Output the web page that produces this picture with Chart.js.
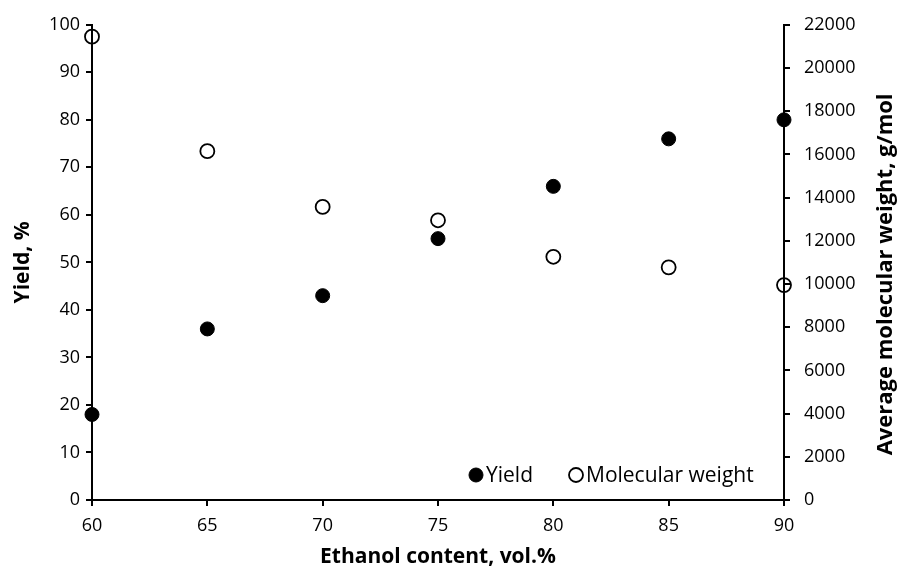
<!DOCTYPE html>
<html lang="en">
<head>
  <meta charset="UTF-8">
  <title>Yield and molecular weight vs ethanol content</title>
  <script src="https://cdn.jsdelivr.net/npm/chart.js"></script>
  <style>
    body {
      margin: 0;
      background-color: #fff;
    }
    .chart-box {
      width: 897px;
      height: 572px;
    }
  </style>
</head>
<body>
  <div class="chart-box">
    <canvas id="yieldChart"></canvas>
  </div>
  <script>
    // x values (ethanol content, vol.%)
    var ethanol = [60, 65, 70, 75, 80, 85, 90];
    // Yield, %
    var yieldValues = [18, 36, 43, 55, 66, 76, 80];
    // Average molecular weight, g/mol
    var mwValues = [21450, 16150, 13570, 12950, 11260, 10770, 9950];

    var rightTitle = 'Average molecular weight, g/mol';

    function toPoints(xs, ys) {
      return xs.map(function (x, i) { return { x: x, y: ys[i] }; });
    }

    var fontFamily = '"Open Sans", Lato, sans-serif';

    // legend inside the plot area (bottom right) + right axis title reading upwards
    var extras = {
      id: 'extras',
      afterDraw: function (chart) {
        var ctx = chart.ctx;
        var area = chart.chartArea;
        var y = area.bottom - 25;
        var items = [
          { x: area.left + 384, label: 'Yield', ds: chart.data.datasets[0] },
          { x: area.left + 484, label: 'Molecular weight', ds: chart.data.datasets[1] }
        ];
        ctx.save();
        ctx.font = '21px ' + fontFamily;
        ctx.textBaseline = 'middle';
        items.forEach(function (it) {
          ctx.beginPath();
          ctx.arc(it.x, y, 7, 0, Math.PI * 2);
          if (it.ds.backgroundColor !== 'rgba(0,0,0,0)') {
            ctx.fillStyle = it.ds.backgroundColor;
            ctx.fill();
          }
          ctx.lineWidth = it.ds.borderWidth;
          ctx.strokeStyle = it.ds.borderColor;
          ctx.stroke();
          ctx.fillStyle = '#000';
          ctx.fillText(it.label, it.x + 10, y + 1);
        });

        // right title
        ctx.translate(886, (area.top + area.bottom) / 2 + 12);
        ctx.rotate(-Math.PI / 2);
        ctx.font = 'bold 22px ' + fontFamily;
        ctx.textAlign = 'center';
        ctx.fillStyle = '#000';
        ctx.fillText(rightTitle, 0, 0);
        ctx.restore();
      }
    };

    var ctx = document.getElementById('yieldChart').getContext('2d');
    var chart = new Chart(ctx, {
      type: 'scatter',
      data: {
        datasets: [{
          label: 'Yield',
          data: toPoints(ethanol, yieldValues),
          yAxisID: 'y',
          backgroundColor: '#000',
          borderColor: '#000',
          borderWidth: 1,
          pointRadius: 7,
          pointHoverRadius: 7,
          clip: false
        }, {
          label: 'Molecular weight',
          data: toPoints(ethanol, mwValues),
          yAxisID: 'y1',
          backgroundColor: 'rgba(0,0,0,0)',
          borderColor: '#000',
          borderWidth: 1.8,
          pointRadius: 7,
          pointHoverRadius: 7,
          clip: false
        }]
      },
      options: {
        responsive: true,
        maintainAspectRatio: false,
        animation: { duration: 0 },
        layout: {
          padding: { top: 24, right: 0, bottom: 0, left: 0 }
        },
        plugins: {
          legend: { display: false },
          tooltip: { enabled: false }
        },
        scales: {
          x: {
            type: 'linear',
            min: 60,
            max: 90,
            afterFit: function (scale) { scale.height = 72; },
            ticks: {
              stepSize: 5,
              color: '#000',
              padding: 9,
              font: { family: fontFamily, size: 18 }
            },
            grid: {
              drawOnChartArea: false,
              tickLength: 6,
              color: '#000',
              lineWidth: 2
            },
            border: { color: '#000', width: 2 },
            title: {
              display: true,
              text: 'Ethanol content, vol.%',
              color: '#000',
              font: { family: fontFamily, size: 21, weight: 'bold' },
              padding: { top: 0, bottom: 2 }
            }
          },
          y: {
            position: 'left',
            min: 0,
            max: 100,
            afterFit: function (scale) { scale.width = 92; },
            ticks: {
              stepSize: 10,
              color: '#000',
              padding: 6,
              font: { family: fontFamily, size: 18 }
            },
            grid: {
              drawOnChartArea: false,
              tickLength: 6,
              color: '#000',
              lineWidth: 2
            },
            border: { color: '#000', width: 2 },
            title: {
              display: true,
              text: 'Yield, %',
              color: '#000',
              font: { family: fontFamily, size: 21, weight: 'bold' },
              padding: { top: 10, bottom: 0 }
            }
          },
          y1: {
            position: 'right',
            min: 0,
            max: 22000,
            afterFit: function (scale) { scale.width = 113; },
            ticks: {
              stepSize: 2000,
              color: '#000',
              padding: 14,
              font: { family: fontFamily, size: 18 },
              callback: function (value) { return String(value); }
            },
            grid: {
              drawOnChartArea: false,
              tickLength: 6,
              color: '#000',
              lineWidth: 2
            },
            border: { color: '#000', width: 2 }
          }
        }
      },
      plugins: [extras]
    });
  </script>
</body>
</html>
